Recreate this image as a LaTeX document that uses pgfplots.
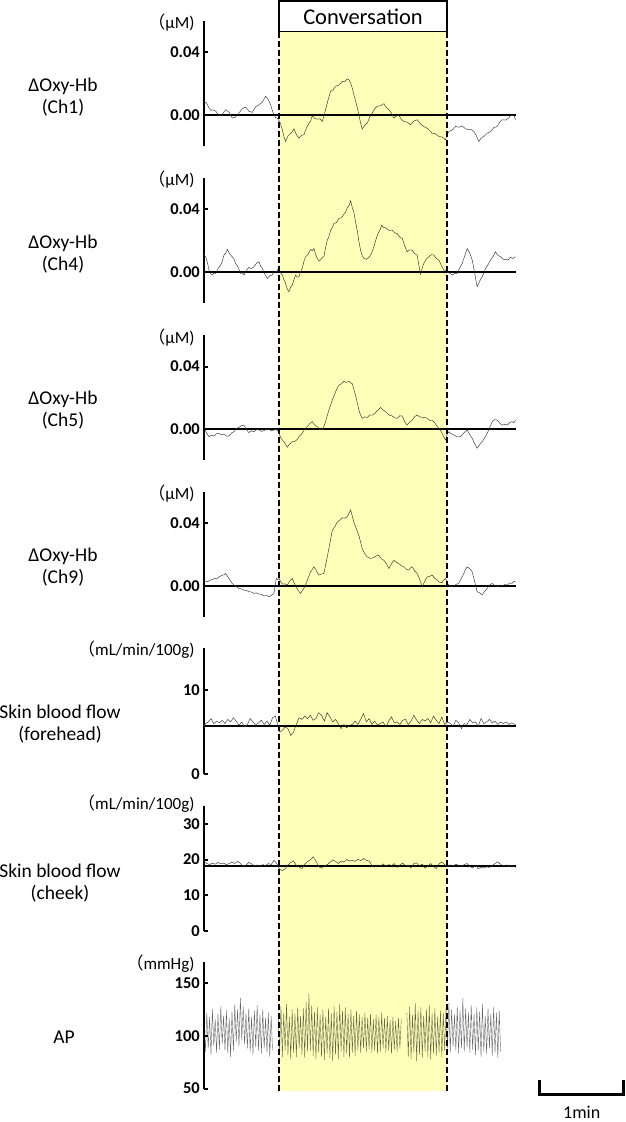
\documentclass[border=0pt]{standalone}
\usepackage{pgfplots}
\pgfplotsset{compat=1.18}
\usepackage{fontspec}
\setmainfont{Carlito}
\newfontfamily\cjk{Noto Sans CJK JP}
\definecolor{band}{RGB}{255,255,185}
\newcommand\lblfont{\fontsize{19.5}{22}\selectfont}
\newcommand\ticfont{\fontsize{16.5}{16.5}\selectfont\bfseries}
\newcommand\unitfont{\fontsize{17}{17}\selectfont}
\pgfplotsset{
 panel/.style={
  scale only axis, width=312pt, xmin=0, xmax=223,
  axis x line=none, axis y line=left,
  axis line style={-, line width=2.4pt, black},
  tick align=inside, major tick length=4pt,
  ytick style={line width=2pt, black},
  yticklabel style={font=\ticfont, inner sep=2pt, xshift=-2pt},
  scaled y ticks=false,
  clip=false, enlargelimits=false,
 },
 trace/.style={line width=0.45pt, black!80},
 base/.style={line width=1.8pt, black},
 ap/.style={line width=0.4pt, black, opacity=0.6},
 oxy/.style={panel, height=125pt, ymin=-0.02, ymax=0.06, ytick={0,0.04},
   yticklabels={\textbf{0.00},\textbf{0.04}}},
}
\newcommand\unit[2][-2pt]{\node[anchor=east, font=\unitfont, xshift=-6pt, yshift=#1] at (rel axis cs:0,1) {#2};}
\begin{document}
\begin{tikzpicture}
\useasboundingbox (0,0) rectangle (625pt,-1122pt);
% conversation band
\fill[band] (279pt,-31.5pt) rectangle (447pt,-1091pt);

% ---------- Panel 1 : Ch1
\begin{axis}[oxy, at={(204pt,-146pt)}, anchor=south west]
\unit{{\cjk （}μM)}
\addplot[base] coordinates {(0,0) (223,0)};
\addplot[trace] coordinates {
(0,0.0086)(1.8,0.0075)(3.6,0.0043)(4.8,0.0028)(6,0.0032)(8.4,0.0023)(10.7,-0.0006)(13.1,0.0003)(15.5,0.0032)(17.9,0.0016)(20.2,-0.0021)(22.6,-0.0015)(25,0.0011)(27.4,0.004)(29.8,0.0049)(32.2,0.0022)(34.5,0.0015)(36.9,0.005)(39.3,0.0064)(41.7,0.0081)(44,0.0118)(45.8,0.0101)(47.6,0.0064)(49.4,0.0012)(51.2,-0.0021)(52.2,-0.0020)(53.1,-0.0032)(54.6,-0.0054)(56,-0.0096)(57.2,-0.0142)(58.3,-0.0171)(60.1,-0.0135)(61.9,-0.0118)(63.1,-0.0110)(64.3,-0.0090)(66.1,-0.0128)(67.9,-0.0150)(69.7,-0.0131)(71.4,-0.0128)(73.2,-0.0085)(75,-0.0054)(76.2,-0.0040)(77.4,-0.0006)(79.2,-0.0024)(81,-0.0028)(82.8,-0.0026)(84.5,-0.0043)(85.7,-0.0010)(86.9,0.0032)(88.7,0.0096)(90.5,0.0150)(92.3,0.0160)(94,0.0182)(96.4,0.0190)(98.8,0.0214)(100.6,0.0213)(102.4,0.0229)(103.6,0.0224)(104.8,0.0203)(106,0.0170)(107.1,0.0128)(108.9,0.0070)(110.7,0)(111.9,-0.0052)(113.1,-0.0092)(114.9,-0.0066)(116.7,-0.0054)(118.5,-0.0015)(120.2,0.0011)(122,0.0038)(123.8,0.0054)(126.2,0.0058)(128.6,0.0071)(130.4,0.0045)(132.1,0.0032)(133.9,0.0012)(135.7,-0.0021)(137.5,-0.0007)(139.3,-0.0006)(141.1,-0.0030)(142.9,-0.0043)(145.3,-0.0048)(147.6,-0.0064)(150,-0.0040)(152.4,-0.0032)(154.8,-0.0060)(157.1,-0.0075)(160.1,-0.0090)(163.1,-0.0118)(165.5,-0.0122)(167.9,-0.0139)(170.3,-0.0143)(172.6,-0.0161)(173.8,-0.0125)(175,-0.0107)(177.4,-0.0098)(179.8,-0.0075)(182.2,-0.0080)(184.5,-0.0071)(186.9,-0.0090)(189.3,-0.0096)(191.1,-0.0095)(192.9,-0.0107)(194.7,-0.0135)(196.4,-0.0171)(198.2,-0.0148)(200,-0.0139)(202.4,-0.0118)(204.8,-0.0107)(207.2,-0.0082)(209.5,-0.0075)(211.3,-0.0048)(213.1,-0.0032)(215.5,-0.0034)(217.9,-0.0021)(219,-0.0002)(220.2,-0.0006)(221.4,0.0000)(222.6,-0.0032)
};
\end{axis}

% ---------- Panel 2 : Ch4
\begin{axis}[oxy, at={(204pt,-303pt)}, anchor=south west]
\unit{{\cjk （}μM)}
\addplot[base] coordinates {(0,0) (223,0)};
\addplot[trace] coordinates {
(0,0.0117)(0.6,0.0100)(1.2,0.0096)(2.4,0.0060)(3.6,0.0011)(4.8,-0.0012)(6,-0.0021)(7.2,-0.0008)(8.3,-0.0011)(10.1,0.0022)(11.9,0.0043)(13.1,0.0068)(14.3,0.0107)(15.5,0.0118)(16.7,0.0143)(18.5,0.0112)(20.2,0.0096)(21.4,0.0082)(22.6,0.0053)(24.4,0.0028)(26.2,-0.0011)(27.4,-0.0006)(28.6,-0.0021)(30.4,0.0010)(32.1,0.0028)(33.9,0.0020)(35.7,0.0032)(37.5,0.0055)(39.3,0.0064)(40.5,0.0035)(41.7,0.0021)(43.5,-0.0015)(45.2,-0.0043)(47,-0.0025)(48.8,-0.0021)(50,-0.0002)(51.2,0)(52.2,0.0005)(53.1,0.0021)(54.6,-0.0006)(56,-0.0021)(57.2,-0.0052)(58.3,-0.0075)(59.5,-0.0110)(60.7,-0.0128)(61.9,-0.0100)(63.1,-0.0085)(64.3,-0.0050)(65.5,-0.0021)(66.7,-0.0035)(67.9,-0.0032)(69,0.0001)(70.2,0.0021)(71.4,0.0066)(72.6,0.0096)(74.4,0.0112)(76.2,0.0143)(77.4,0.0135)(78.6,0.0149)(79.8,0.0110)(81,0.0085)(82.2,0.0070)(83.3,0.0075)(84.5,0.0092)(85.7,0.0096)(86.9,0.0155)(88.1,0.0202)(89.3,0.0225)(90.5,0.0266)(91.7,0.0283)(92.9,0.0309)(94.7,0.0315)(96.4,0.0341)(98.2,0.0345)(100,0.0368)(101.2,0.0380)(102.4,0.0411)(103.6,0.0422)(104.8,0.0454)(106,0.0410)(107.1,0.0383)(108.3,0.0320)(109.5,0.0266)(110.7,0.0195)(111.9,0.0138)(113.1,0.0102)(114.3,0.0085)(116.1,0.0080)(117.9,0.0092)(119.7,0.0118)(121.4,0.0160)(123.2,0.0215)(125,0.0256)(126,0.0270)(126.9,0.0298)(128.4,0.0283)(129.8,0.0281)(132.2,0.0265)(134.5,0.0266)(136.3,0.0248)(138.1,0.0245)(139.9,0.0222)(141.7,0.0213)(143.5,0.0165)(145.2,0.0128)(147,0.0140)(148.8,0.0138)(150.6,0.0115)(152.4,0.0107)(153.6,0.0040)(154.8,-0.0015)(156,0.0025)(157.1,0.0053)(158.9,0.0082)(160.7,0.0096)(162.5,0.0110)(164.3,0.0107)(166.1,0.0085)(167.9,0.0075)(169.7,0.0040)(171.4,0.0011)(172.6,0.0010)(173.8,-0.0006)(175.6,-0.0008)(177.4,-0.0021)(179.2,-0.0010)(181,-0.0011)(182.8,0.0025)(184.5,0.0053)(186.3,0.0100)(188.1,0.0149)(189.9,0.0120)(191.7,0.0075)(193.5,-0.0010)(195.2,-0.0096)(197,-0.0060)(198.8,-0.0032)(200,-0.0008)(201.2,0.0021)(203,0.0045)(204.8,0.0075)(206.6,0.0098)(208.3,0.0128)(210.1,0.0105)(211.9,0.0096)(213.7,0.0080)(215.5,0.0079)(217.3,0.0075)(219,0.0092)(220.8,0.0085)(222.6,0.0096)
};
\end{axis}

% ---------- Panel 3 : Ch5
\begin{axis}[oxy, at={(204pt,-460.25pt)}, anchor=south west]
\unit{{\cjk （}μM)}
\addplot[base] coordinates {(0,0) (223,0)};
\addplot[trace] coordinates {
(0,0.0011)(1.8,-0.0025)(3.6,-0.0049)(5.4,-0.0040)(7.1,-0.0045)(8.9,-0.0030)(10.7,-0.0028)(12.5,-0.0038)(14.3,-0.0032)(16.1,-0.0045)(17.9,-0.0045)(19.7,-0.0025)(21.4,-0.0017)(23.2,0.0002)(25,0.0011)(26.8,0.0022)(28.6,0.0025)(30.4,-0.0005)(32.1,-0.0023)(33.9,-0.0012)(35.7,-0.0017)(37.5,-0.0004)(39.3,-0.0006)(41.1,-0.0015)(42.9,-0.0011)(44.7,0.0002)(46.4,-0.0002)(48.2,-0.0012)(50,-0.0006)(51.6,-0.0003)(53.1,-0.0017)(54.6,-0.0050)(56,-0.0070)(57.8,-0.0090)(59.5,-0.0117)(61.3,-0.0095)(63.1,-0.0081)(64.9,-0.0080)(66.7,-0.0066)(68.5,-0.0042)(70.2,-0.0028)(72,0.0000)(73.8,0.0015)(75.6,0.0035)(77.4,0.0047)(79.2,0.0025)(81,0.0015)(82.8,-0.0002)(84.5,-0.0006)(85.7,0.0015)(86.9,0.0047)(88.7,0.0105)(90.5,0.0153)(92.3,0.0200)(94,0.0237)(95.2,0.0262)(96.4,0.0280)(98.2,0.0290)(100,0.0305)(101.8,0.0298)(103.6,0.0307)(104.8,0.0295)(106,0.0290)(107.2,0.0250)(108.3,0.0216)(109.5,0.0170)(110.7,0.0121)(111.9,0.0090)(113.1,0.0068)(114.9,0.0078)(116.7,0.0074)(118.5,0.0090)(120.2,0.0089)(122,0.0098)(123.8,0.0117)(125,0.0125)(126.2,0.0138)(128,0.0122)(129.8,0.0110)(132.2,0.0090)(134.5,0.0083)(136.3,0.0072)(138.1,0.0068)(139.9,0.0085)(141.7,0.0083)(143.5,0.0045)(145.2,0.0025)(147,0.0045)(148.8,0.0057)(150.6,0.0080)(152.4,0.0089)(154.2,0.0078)(156,0.0074)(157.8,0.0075)(159.5,0.0068)(161.3,0.0055)(163.1,0.0057)(164.9,0.0040)(166.7,0.0015)(168.5,0.0000)(170.2,-0.0028)(171.4,-0.0050)(172.6,-0.0070)(173.8,-0.0035)(175,-0.0017)(176.8,-0.0030)(178.6,-0.0038)(181,-0.0050)(183.3,-0.0049)(185.7,-0.0025)(188.1,-0.0006)(189.9,-0.0035)(191.7,-0.0059)(193.5,-0.0095)(195.2,-0.0123)(197,-0.0100)(198.8,-0.0081)(200.6,-0.0058)(202.4,-0.0028)(204.2,0.0010)(206,0.0047)(207.8,0.0060)(209.5,0.0057)(211.3,0.0038)(213.1,0.0025)(214.9,0.0030)(216.7,0.0025)(218.5,0.0042)(220.2,0.0047)(221.4,0.0040)(222.6,0.0057)
};
\end{axis}

% ---------- Panel 4 : Ch9
\begin{axis}[oxy, at={(204pt,-617pt)}, anchor=south west]
\unit{{\cjk （}μM)}
\addplot[base] coordinates {(0,0) (223,0)};
\addplot[trace] coordinates {
(0,0.0036)(1.2,0.0030)(2.4,0.0025)(4.2,0.0035)(6,0.0040)(7.8,0.0048)(9.5,0.0047)(11.3,0.0060)(13.1,0.0068)(14.3,0.0070)(15.5,0.0078)(16.7,0.0062)(17.9,0.0047)(19.7,0.0020)(21.4,0.0004)(23.2,-0.0005)(25,-0.0017)(26.8,-0.0020)(28.6,-0.0028)(30.4,-0.0030)(32.1,-0.0038)(33.9,-0.0040)(35.7,-0.0049)(37.5,-0.0045)(39.3,-0.0053)(41.1,-0.0055)(42.9,-0.0066)(44.7,-0.0062)(46.4,-0.0070)(48.2,-0.0060)(50,-0.0049)(51.7,0.0047)(52.6,0.0040)(53.6,0.0047)(54.8,0.0025)(56,0.0011)(57.8,0.0012)(59.5,0.0004)(61.3,0.0030)(63.1,0.0047)(64.3,0.0020)(65.5,-0.0002)(67.3,-0.0030)(69,-0.0049)(70.8,-0.0025)(72.6,0.0004)(74.4,0.0050)(76.2,0.0089)(77.4,0.0105)(78.6,0.0121)(80.4,0.0095)(82.1,0.0068)(83.9,0.0075)(85.7,0.0078)(86.9,0.0130)(88.1,0.0184)(89.9,0.0270)(91.7,0.0354)(93.5,0.0378)(95.2,0.0407)(97,0.0420)(98.8,0.0435)(100.6,0.0432)(102.4,0.0443)(103.6,0.0462)(104.8,0.0485)(106,0.0445)(107.1,0.0407)(108.9,0.0365)(110.7,0.0322)(111.9,0.0280)(113.1,0.0237)(114.9,0.0205)(116.7,0.0184)(119,0.0175)(121.4,0.0180)(123.2,0.0192)(125,0.0195)(126.8,0.0172)(128.6,0.0163)(130.4,0.0140)(132.1,0.0110)(133.9,0.0140)(135.7,0.0163)(137.5,0.0150)(139.3,0.0142)(141.1,0.0128)(142.9,0.0121)(144.7,0.0105)(146.4,0.0100)(147.6,0.0115)(148.8,0.0121)(150.6,0.0095)(152.4,0.0078)(154.2,0.0040)(156,-0.0006)(157.8,0.0030)(159.5,0.0057)(161.3,0.0060)(163.1,0.0068)(164.9,0.0048)(166.7,0.0036)(168.5,0.0022)(170.2,0.0019)(171.4,0.0038)(172.6,0.0047)(173.8,0.0020)(175,0.0004)(176.8,-0.0005)(178.6,-0.0002)(180.4,0.0010)(182.1,0.0015)(183.9,0.0048)(185.7,0.0078)(186.9,0.0105)(188.1,0.0121)(189.9,0.0110)(191.7,0.0089)(193.5,0.0025)(195.2,-0.0038)(197,-0.0045)(198.8,-0.0059)(200.6,-0.0035)(202.4,-0.0017)(204.2,0.0005)(206,0.0015)(207.8,0.0002)(209.5,-0.0006)(211.3,0.0005)(213.1,-0.0002)(214.9,0.0008)(216.7,0.0004)(218.5,0.0018)(220.2,0.0015)(221.4,0.0030)(222.6,0.0025)
};
\end{axis}

% ---------- Panel 5 : forehead
\begin{axis}[panel, at={(204pt,-774pt)}, anchor=south west, height=126pt,
  ymin=0, ymax=15, ytick={0,10}, yticklabels={\textbf{0},\textbf{10}}]
\unit{{\cjk （}mL/min/100g)}
\addplot[base] coordinates {(0,5.7) (223,5.7)};
\addplot[trace] coordinates {
(0,5.6)(1,6.0)(3,6.2)(5,6.6)(7,6.0)(9,6.3)(11,6.1)(13,6.4)(15,6.0)(17,6.5)(19,6.2)(21,6.7)(23,6.3)(25,5.8)(27,6.2)(29,5.6)(31,5.9)(33,6.6)(35,6.2)(37,5.8)(39,6.1)(41,6.4)(43,5.9)(45,6.3)(47,5.8)(49,6.7)(51,6.9)(52.5,6.0)(54,5.0)(56,5.2)(58,5.6)(60,5.4)(62,4.6)(64,5.0)(66,5.9)(68,6.7)(70,6.5)(72,6.9)(74,6.6)(76,7.0)(78,6.4)(80,6.6)(82,7.3)(84,7.0)(86,6.3)(88,7.3)(90,6.8)(92,6.2)(94,6.5)(96,6.0)(98,5.4)(100,5.9)(102,5.5)(104,5.8)(106,5.9)(108,6.3)(110,5.9)(112,6.5)(114,7.2)(116,6.2)(118,6.6)(120,5.9)(122,6.3)(124,5.8)(126,6.0)(128,6.2)(130,5.6)(132,6.3)(134,6.8)(136,6.1)(138,6.2)(140,5.9)(142,6.4)(144,6.5)(146,5.9)(148,6.3)(150,7.0)(152,6.4)(154,6.0)(156,6.5)(158,6.3)(160,6.6)(162,6.1)(164,6.9)(166,6.4)(168,6.0)(170,6.8)(172,5.9)(174,6.2)(176,6.0)(178,5.7)(180,6.4)(182,6.1)(184,5.4)(186,6.0)(188,5.9)(190,6.5)(192,6.1)(194,6.2)(196,5.7)(198,6.6)(200,6.0)(202,6.2)(204,6.5)(206,6.1)(208,6.3)(210,5.9)(212,6.2)(214,6.0)(216,6.2)(218,5.9)(220,6.1)(223,5.8)
};
\end{axis}

% ---------- Panel 6 : cheek
\begin{axis}[panel, at={(204pt,-931pt)}, anchor=south west, height=125pt,
  ymin=0, ymax=35, ytick={0,10,20,30},
  yticklabels={\textbf{0},\textbf{10},\textbf{20},\textbf{30}}]
\unit[2pt]{{\cjk （}mL/min/100g)}
\addplot[base] coordinates {(0,18.3) (223,18.3)};
\addplot[trace] coordinates {
(0,19.6)(2,18.9)(4,18.6)(6,19.0)(8,18.7)(10,19.2)(12,18.8)(14,19.0)(16,18.6)(18,18.9)(20,19.3)(22,18.9)(24,19.5)(26,19.0)(28,17.9)(30,18.4)(32,19.2)(34,18.8)(36,18.2)(38,18.5)(40,18.0)(42,18.6)(44,18.3)(46,18.9)(48,18.6)(50,19.8)(52,18.9)(54,17.3)(56,16.9)(58,17.4)(60,18.5)(62,19.2)(64,19.6)(66,18.4)(68,17.9)(70,17.5)(72,18.7)(74,19.5)(76,19.9)(78,20.8)(80,19.6)(82,18.0)(84,17.6)(86,18.2)(88,18.6)(90,19.2)(92,19.9)(94,19.5)(96,18.9)(98,19.6)(100,19.3)(102,20.0)(104,19.6)(106,19.8)(108,19.5)(110,20.1)(112,19.7)(114,20.3)(116,19.8)(118,19.6)(120,18.4)(122,17.9)(124,18.5)(126,18.1)(128,18.8)(130,18.0)(132,18.6)(134,18.3)(136,18.9)(138,17.8)(140,18.5)(142,19.0)(144,18.2)(146,18.4)(148,17.7)(150,18.9)(152,19.1)(154,18.3)(156,18.7)(158,17.6)(160,18.2)(162,18.9)(164,18.0)(166,17.5)(168,18.8)(170,19.3)(172,18.6)(174,18.0)(176,18.5)(178,18.1)(180,18.7)(182,18.4)(184,18.0)(186,18.6)(188,18.9)(190,18.1)(192,17.6)(194,18.5)(196,17.4)(198,17.9)(200,17.6)(202,18.0)(204,17.8)(206,18.3)(208,18.9)(210,19.4)(212,18.7)(214,18.2)(216,18.5)(218,18.0)(220,18.4)(223,17.8)
};
\end{axis}

% ---------- Panel 7 : AP
\begin{axis}[panel, at={(204pt,-1088.5pt)}, anchor=south west, height=126.5pt,
  ymin=50, ymax=170, ytick={50,100,150},
  yticklabels={\textbf{50},\textbf{100},\textbf{150}}]
\unit{{\cjk （}mmHg)}
\addplot[ap] table {
0 110
1 85
2 122
3 88
4 118
5 82
6 125
7 90
8 116
9 84
10 121
11 87
12 128
13 92
14 119
15 86
16 124
17 83
18 117
19 80
20 123
21 86
22 130
23 94
24 125
25 90
26 136
27 96
28 128
29 92
30 121
31 88
32 126
33 85
34 118
35 82
36 124
37 89
38 129
39 86
40 120
41 83
42 125
43 88
44 117
45 84
46 122
47 80
48 119
49 86
};
\addplot[ap] table {
53 120
54 84
55 128
56 80
57 122
58 86
59 130
60 82
61 118
62 78
63 125
64 84
65 121
66 80
67 127
68 88
69 119
70 82
71 126
72 79
73 132
74 85
75 140
76 86
77 129
78 81
79 123
80 78
81 127
82 84
83 120
84 80
85 125
86 77
87 118
88 83
89 126
90 79
91 121
92 76
93 128
94 82
95 123
96 78
97 130
98 85
99 124
100 80
101 127
102 83
103 121
104 79
105 125
106 84
107 119
108 81
109 124
110 86
111 120
112 84
113 118
114 88
115 122
116 85
117 117
118 87
119 121
120 84
121 116
122 86
123 120
124 83
125 118
126 85
127 122
128 88
129 117
130 84
131 119
132 86
133 115
134 83
135 118
136 87
137 114
138 85
139 117
140 88
141 116
};
\addplot[ap] table {
145 122
146 80
147 128
148 78
149 120
150 84
151 131
152 76
153 124
154 82
155 127
156 79
157 119
158 85
159 125
160 80
161 129
162 78
163 121
164 83
165 126
166 81
167 118
168 84
169 124
170 80
171 122
172 86
173 127
174 88
175 131
176 84
177 125
178 90
179 120
180 86
181 128
182 83
183 124
184 88
185 136
186 85
187 126
188 89
189 122
190 84
191 129
192 87
193 121
194 82
195 127
196 86
197 123
198 80
199 130
200 85
201 119
202 83
203 126
204 88
205 121
206 81
207 127
208 84
209 122
210 79
211 124
212 85
};
% 1 min scale bar
\draw[line width=3pt] (axis cs:240,58) -- (axis cs:240,44) -- (axis cs:299.5,44) -- (axis cs:299.5,58);
\node[anchor=base, font=\fontsize{18}{18}\selectfont, yshift=-24pt] at (axis cs:270,44) {1min};
\end{axis}

% band edges and conversation box
\draw[line width=2.3pt, dash pattern=on 6pt off 3pt] (279pt,-31.5pt) -- (279pt,-1091pt);
\draw[line width=2.3pt, dash pattern=on 6pt off 3pt] (447pt,-31.5pt) -- (447pt,-1091pt);
\draw[line width=1.5pt, fill=white] (279pt,-1pt) rectangle (447pt,-31.5pt);
\node[font=\fontsize{22.5}{22.5}\selectfont] at (363pt,-16.5pt) {Conversation};

% row labels
\node[align=center, font=\lblfont] at (63pt,-97pt) {ΔOxy-Hb\\(Ch1)};
\node[align=center, font=\lblfont] at (63pt,-254pt) {ΔOxy-Hb\\(Ch4)};
\node[align=center, font=\lblfont] at (63pt,-410pt) {ΔOxy-Hb\\(Ch5)};
\node[align=center, font=\lblfont] at (63pt,-567pt) {ΔOxy-Hb\\(Ch9)};
\node[align=center, font=\lblfont] at (60pt,-724pt) {Skin blood flow\\(forehead)};
\node[align=center, font=\lblfont] at (60pt,-883pt) {Skin blood flow\\(cheek)};
\node[font=\lblfont] at (64pt,-1037pt) {AP};
\end{tikzpicture}
\end{document}
